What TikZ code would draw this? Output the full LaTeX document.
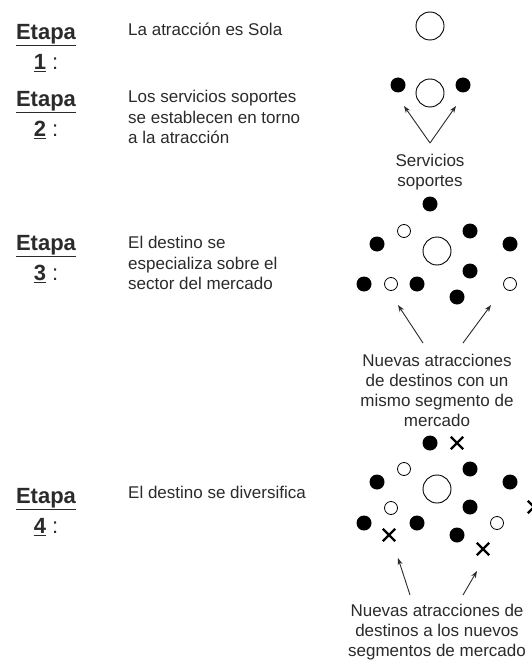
\documentclass[tikz,border=0pt]{standalone}
\usepackage{fontspec}
\setmainfont{Liberation Sans}
\usetikzlibrary{arrows.meta,shapes.misc}
\definecolor{txt}{HTML}{2B2B2B}

\begin{document}
\begin{tikzpicture}[x=1pt, y=-1pt,
        every node/.style={inner sep=0pt, text=txt},
        etapa/.style={align=center, font=\fontsize{22}{30}\selectfont\bfseries},
        texto/.style={anchor=west, align=left, font=\fontsize{17}{20.5}\selectfont},
        nota/.style={align=center, font=\fontsize{17}{20}\selectfont},
        atraccion/.style={circle, draw=black, line width=0.9pt, minimum size=28pt},
        servicio/.style={circle, fill=black, minimum size=15pt},
        nueva/.style={circle, draw=black, line width=0.8pt, minimum size=13pt},
        segmento/.style={cross out, draw=black, line width=2.4pt, minimum size=10pt},
        flecha/.style={-{Stealth[length=7pt,width=5pt]}, line width=0.9pt, draw=txt}
        ]
        \useasboundingbox[fill=white] (0,0) rectangle (531,663);

        % Etapa 1
        \node[etapa] (Etapa1) at (46,48) {\underline{Etapa}\\\underline{1} {\mdseries :}};
        \node[texto] (Texto1) at (128,29) {La atracción es Sola};
        \node[atraccion] (Atr1) at (430,26) {};

        % Etapa 2
        \node[etapa] (Etapa2) at (46,115) {\underline{Etapa}\\\underline{2} {\mdseries :}};
        \node[texto] (Texto2) at (128,117) {Los servicios soportes\\se establecen en torno\\a la atracción};
        \node[atraccion] (Atr2) at (430,93) {};
        \node[servicio] (Serv2a) at (398,85) {};
        \node[servicio] (Serv2b) at (463,85) {};
        \coordinate (Base2) at (430,143);
        \coordinate (Punta2a) at (404,106);
        \coordinate (Punta2b) at (456,106);
        \draw[flecha] (Base2) -- (Punta2a);
        \draw[flecha] (Base2) -- (Punta2b);
        \node[nota] (Nota2) at (430,172) {Servicios\\soportes};

        % Etapa 3
        \node[etapa] (Etapa3) at (46,259) {\underline{Etapa}\\\underline{3} {\mdseries :}};
        \node[texto] (Texto3) at (128,263) {El destino se\\especializa sobre el\\sector del mercado};
        \node[servicio] (Serv3a) at (430,204) {};
        \node[nueva] (Nueva3a) at (404,231) {};
        \node[servicio] (Serv3b) at (470,231) {};
        \node[servicio] (Serv3c) at (377,244) {};
        \node[atraccion] (Atr3) at (437,251) {};
        \node[servicio] (Serv3d) at (510,244) {};
        \node[servicio] (Serv3e) at (470,271) {};
        \node[servicio] (Serv3f) at (364,284) {};
        \node[nueva] (Nueva3b) at (391,284) {};
        \node[servicio] (Serv3g) at (417,284) {};
        \node[servicio] (Serv3h) at (457,297) {};
        \node[nueva] (Nueva3c) at (510,284) {};
        \coordinate (Base3a) at (423,343);
        \coordinate (Base3b) at (463,343);
        \coordinate (Punta3a) at (398,305);
        \coordinate (Punta3b) at (491,305);
        \draw[flecha] (Base3a) -- (Punta3a);
        \draw[flecha] (Base3b) -- (Punta3b);
        \node[nota] (Nota3) at (437,390) {Nuevas atracciones\\de destinos con un\\mismo segmento de\\mercado};

        % Etapa 4
        \node[etapa] (Etapa4) at (46,512) {\underline{Etapa}\\\underline{4} {\mdseries :}};
        \node[texto] (Texto4) at (128,492) {El destino se diversifica};
        \node[servicio] (Serv4a) at (430,443) {};
        \node[segmento] (Seg4a) at (457,443) {};
        \node[nueva] (Nueva4a) at (404,469) {};
        \node[servicio] (Serv4b) at (470,469) {};
        \node[servicio] (Serv4c) at (377,482) {};
        \node[atraccion] (Atr4) at (437,489) {};
        \node[servicio] (Serv4d) at (510,482) {};
        \node[segmento] (Seg4b) at (534,507) {};
        \node[nueva] (Nueva4b) at (391,508) {};
        \node[servicio] (Serv4e) at (470,507) {};
        \node[servicio] (Serv4f) at (364,523) {};
        \node[servicio] (Serv4g) at (417,523) {};
        \node[nueva] (Nueva4c) at (497,523) {};
        \node[segmento] (Seg4c) at (389,535) {};
        \node[servicio] (Serv4h) at (457,535) {};
        \node[segmento] (Seg4d) at (483,549) {};
        \coordinate (Base4a) at (410,595);
        \coordinate (Base4b) at (463,595);
        \coordinate (Punta4a) at (398,558);
        \coordinate (Punta4b) at (477,571);
        \draw[flecha] (Base4a) -- (Punta4a);
        \draw[flecha] (Base4b) -- (Punta4b);
        \node[nota] (Nota4) at (437,632) {Nuevas atracciones de\\destinos a los nuevos\\segmentos de mercado};
\end{tikzpicture}
\end{document}
